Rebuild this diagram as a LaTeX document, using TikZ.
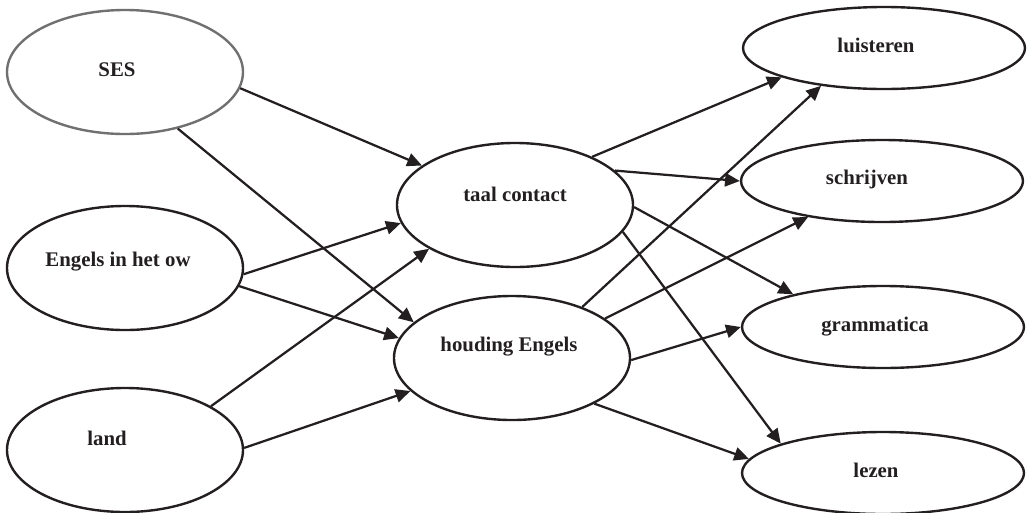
\documentclass[tikz,border=0pt]{standalone}
\usepackage{fontspec}
\setmainfont{Liberation Serif}
\usetikzlibrary{shapes.geometric}
\usetikzlibrary{arrows.meta}
\definecolor{inkdark}{RGB}{35,31,32}
\definecolor{inkgray}{RGB}{112,112,112}
\tikzset{   factor/.style = {ellipse, draw = inkdark, line width = 1.7pt, minimum width = 59mm, minimum height = 31mm, inner sep = 0pt},
            skill/.style = {ellipse, draw = inkdark, line width = 1.7pt, minimum width = 70.5mm, minimum height = 20.5mm, inner sep = 0pt},
            lbl/.style = {font = \fontsize{14.8}{17}\selectfont\bfseries, text = inkdark, inner sep = 0pt, anchor = base},
            link/.style = {draw = inkdark, line width = 1.6pt, -{Triangle[length = 10.5pt, width = 9.5pt]}}}

\begin{document}
\begin{tikzpicture}[x=0.25mm, y=-0.25mm]
                        \useasboundingbox (0,0) rectangle (1034,512);
                        \node[factor, draw = inkgray] (ses) at (125,72) {};
                        \node[factor] (engels) at (125,268) {};
                        \node[factor] (land) at (125,450) {};
                        \node[factor] (taal) at (515,205) {};
                        \node[factor] (houding) at (512,358) {};
                        \node[skill] (luisteren) at (884,48) {};
                        \node[skill] (schrijven) at (882,181) {};
                        \node[skill] (grammatica) at (883,327) {};
                        \node[skill] (lezen) at (883,473) {};
                        \node[lbl] (ses-t) at (117,76) {SES};
                        \node[lbl] (engels-t) at (118,266) {Engels in het ow};
                        \node[lbl] (land-t) at (107,445) {land};
                        \node[lbl] (taal-t) at (515,201) {taal contact};
                        \node[lbl] (houding-t) at (509,351) {houding Engels};
                        \node[lbl] (luisteren-t) at (876,52) {luisteren};
                        \node[lbl] (schrijven-t) at (867,184) {schrijven};
                        \node[lbl] (grammatica-t) at (875,331) {grammatica};
                        \node[lbl] (lezen-t) at (876,477) {lezen};
                        \draw[link] (ses.-8) -- (taal.157.6);
                        \draw[link] (ses.-47) -- (houding.160.2);
                        \draw[link] (engels.-3.4) -- (taal.-171.5);
                        \draw[link] (engels.-9.5) -- (houding.170.1);
                        \draw[link] (land.27.3) -- (taal.-153.4);
                        \draw[link] (land.1.4) -- (houding.-162.6);
                        \draw[link] (taal.32.1) -- (luisteren.-164.2);
                        \draw[link] (taal.19.8) -- (schrijven.180);
                        \draw[link] (taal.-1) -- (grammatica.160.5);
                        \draw[link] (taal.-14.5) -- (lezen.164.4);
                        \draw[link] (houding.36.6) -- (luisteren.-149.2);
                        \draw[link] (houding.23.8) -- (schrijven.-154.8);
                        \draw[link] (houding.-1.4) -- (grammatica.180);
                        \draw[link] (houding.-29) -- (lezen.174.5);
                      \end{tikzpicture}
\end{document}
